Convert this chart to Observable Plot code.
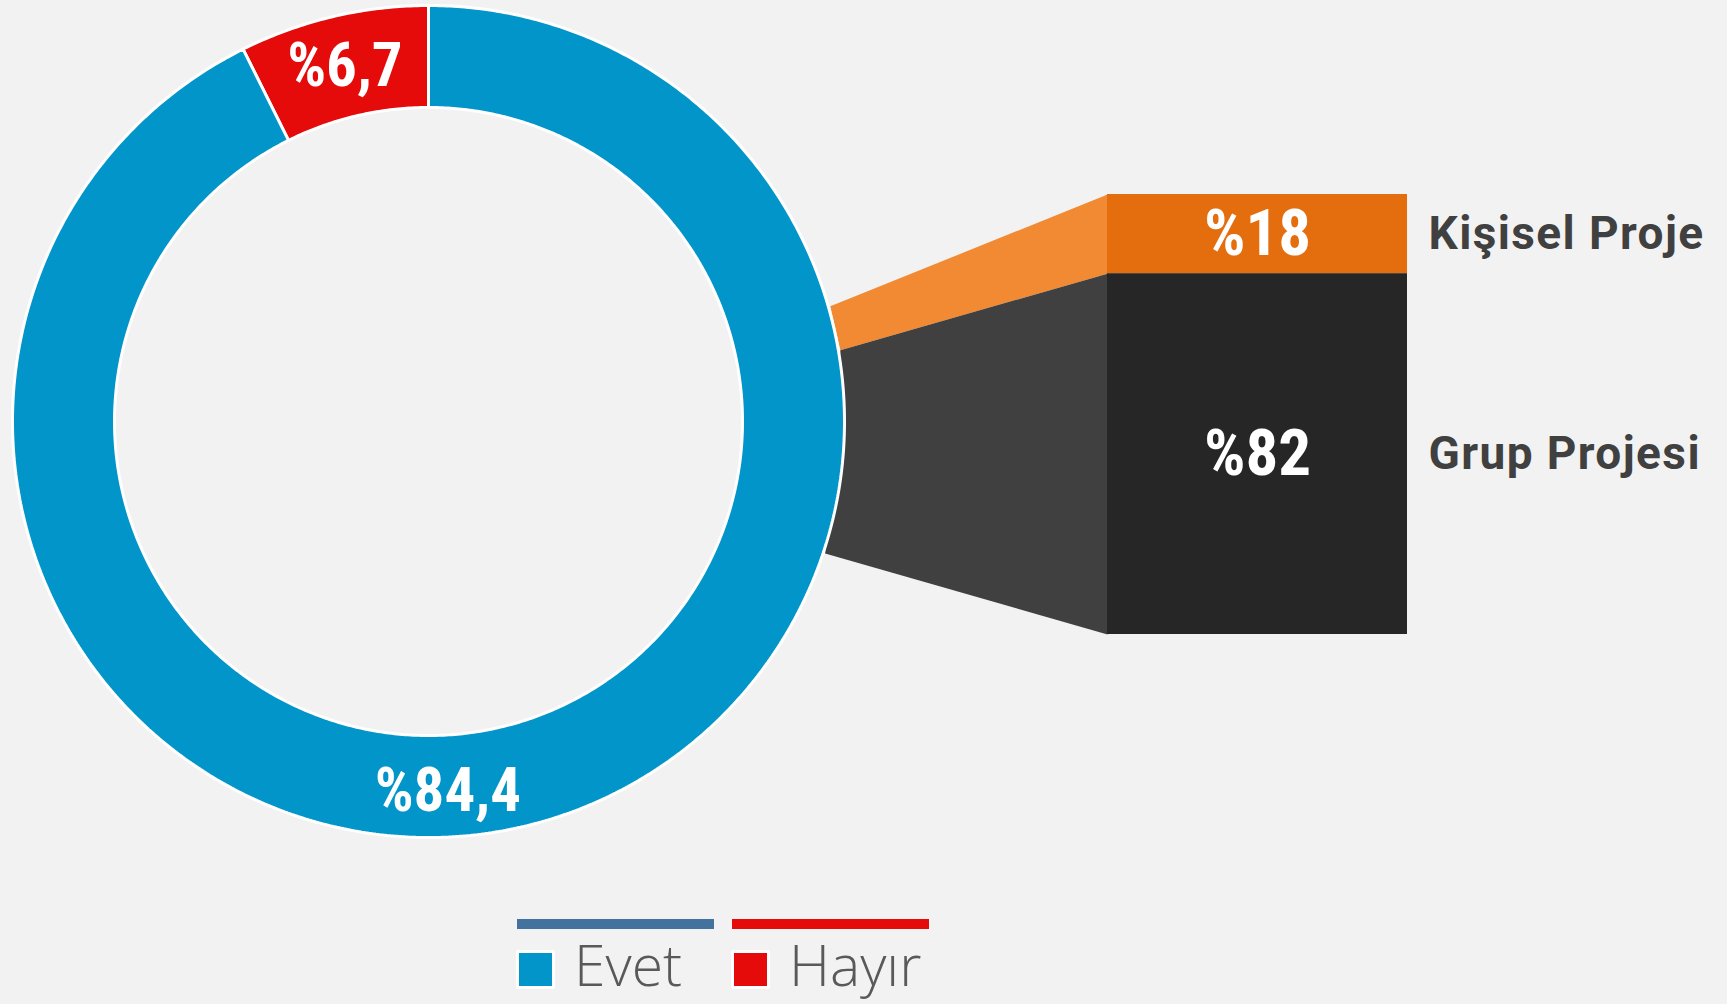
<!DOCTYPE html>
<html>
<head>
<meta charset="utf-8">
<script src="https://cdn.jsdelivr.net/npm/d3@7"></script>
<script src="https://cdn.jsdelivr.net/npm/@observablehq/plot@0.6"></script>
<style>
  html, body { margin: 0; padding: 0; background: #f2f2f2; }
  #wrap { position: relative; width: 1727px; height: 1004px; overflow: hidden; }
  #legend { position: absolute; left: 0; top: 900px; width: 1727px; height: 104px; }
  .lg-line { position: absolute; top: 19px; width: 197px; height: 10px; }
  .lg-sw { position: absolute; top: 50px; width: 33px; height: 33px; border: 3px solid #ffffff; border-radius: 2px; }
  .lg-txt { position: absolute; top: 36px; font-family: "Open Sans", Lato, sans-serif; font-weight: 300; font-size: 57px; line-height: 57px; color: #595959; white-space: nowrap; }
</style>
</head>
<body>
<div id="wrap">
  <div id="chart"></div>
  <div id="legend"></div>
</div>
<script>
// ---------- data ----------
const pieCategories = ["Hayır", "Evet"];
const pieValues = [6.7, 84.4];
const pieLabels = ["%6,7", "%84,4"];

const barCategories = ["Kişisel Proje", "Grup Projesi"];
const barValues = [18, 82];
const barLabels = ["%18", "%82"];

const legendCategories = ["Evet", "Hayır"];

// ---------- styles / layout ----------
const W = 1727, H = 900;
const pieColor = {"Evet": "#0295c9", "Hayır": "#e60b0b"};
const legendLineColor = {"Evet": "#44729e", "Hayır": "#e60b0b"};
const barColor = {"Kişisel Proje": "#e46d0e", "Grup Projesi": "#262626"};
const connColor = {"Kişisel Proje": "#f28a33", "Grup Projesi": "#404040"};
const cx = 428, cy = 421, R = 416, r0 = 314;
const barX1 = 1107, barX2 = 1407, barTop = 194, barBottom = 634;
const connA0 = 74, connA1 = 108.4;      // degrees, clockwise from top
const bigLabelAngle = 177;
const numFont = "'Roboto Condensed', Roboto, sans-serif";
const labFont = "Roboto, 'Roboto Condensed', sans-serif";

const rad = d => d * Math.PI / 180;
const pt = (a, rr) => ({x: cx + rr * Math.sin(rad(a)), y: cy - rr * Math.cos(rad(a))});

// donut slices
const pieTotal = d3.sum(pieValues);
let acc = -pieValues[0] / pieTotal * 360;
const slices = pieCategories.map((c, i) => {
  const a0 = acc, a1 = acc + pieValues[i] / pieTotal * 360;
  acc = a1;
  const pts = [];
  const n = Math.max(8, Math.ceil((a1 - a0) * 2));
  for (let k = 0; k <= n; k++) pts.push({...pt(a0 + (a1 - a0) * k / n, R), key: c});
  for (let k = n; k >= 0; k--) pts.push({...pt(a0 + (a1 - a0) * k / n, r0), key: c});
  const big = (a1 - a0) > 180;
  const lp = pt(big ? bigLabelAngle : (a0 + a1) / 2, (R + r0) / 2 + (big ? 5 : 0));
  return {cat: c, pts, label: pieLabels[i], lx: lp.x, ly: lp.y};
});

// bar segments + connectors
const barTotal = d3.sum(barValues);
let cum = 0;
const segs = barCategories.map((c, i) => {
  const f0 = cum / barTotal, f1 = (cum + barValues[i]) / barTotal;
  cum += barValues[i];
  const y1 = barTop + f0 * (barBottom - barTop);
  const y2 = barTop + f1 * (barBottom - barTop);
  const pA = pt(connA0 + f0 * (connA1 - connA0), R + 2);
  const pB = pt(connA0 + f1 * (connA1 - connA0), R + 2);
  const poly = [
    {x: pA.x, y: pA.y}, {x: barX1, y: y1}, {x: barX1, y: y2}, {x: pB.x, y: pB.y}
  ];
  return {cat: c, label: barLabels[i], x1: barX1, x2: barX2, y1, y2, ym: (y1 + y2) / 2, poly};
});

const marks = [];
segs.forEach(s => marks.push(Plot.line(s.poly, {x: "x", y: "y", curve: "linear-closed", fill: connColor[s.cat], stroke: "none"})));
slices.forEach(s => marks.push(Plot.line(s.pts, {x: "x", y: "y", curve: "linear-closed", fill: pieColor[s.cat], stroke: "#ffffff", strokeWidth: 3, strokeLinejoin: "miter"})));
marks.push(Plot.rect(segs, {x1: "x1", x2: "x2", y1: "y1", y2: "y2", fill: d => barColor[d.cat]}));
marks.push(Plot.text(slices, {x: "lx", y: "ly", text: "label", fill: "#ffffff", fontSize: 61, fontWeight: "bold", fontFamily: numFont}));
marks.push(Plot.text(segs, {x: d => (d.x1 + d.x2) / 2, y: "ym", text: "label", fill: "#ffffff", fontSize: 65, fontWeight: "bold", fontFamily: numFont}));
marks.push(Plot.text(segs, {x: barX2 + 21, y: "ym", text: "cat", textAnchor: "start", fill: "#404040", fontSize: 46, fontWeight: "bold", fontFamily: labFont}));

const chart = Plot.plot({
  width: W, height: H,
  margin: 0,
  x: {domain: [0, W], range: [0, W], axis: null},
  y: {domain: [0, H], range: [0, H], axis: null},
  style: {background: "transparent", overflow: "visible"},
  marks
});
// widen the category labels' tracking slightly
d3.select(chart).selectAll("text")
  .filter(function() { return barCategories.includes(this.textContent); })
  .style("letter-spacing", "1.4px");
document.getElementById("chart").appendChild(chart);

// ---------- legend ----------
const legend = document.getElementById("legend");
const legendX = [517, 732];
legendCategories.forEach((c, i) => {
  const x = legendX[i];
  const line = document.createElement("div");
  line.className = "lg-line"; line.style.left = x + "px"; line.style.background = legendLineColor[c];
  const sw = document.createElement("div");
  sw.className = "lg-sw"; sw.style.left = (x - 1) + "px"; sw.style.background = pieColor[c];
  const tx = document.createElement("div");
  tx.className = "lg-txt"; tx.style.left = (x + 57) + "px"; tx.textContent = c;
  legend.appendChild(line); legend.appendChild(sw); legend.appendChild(tx);
});
</script>
</body>
</html>
